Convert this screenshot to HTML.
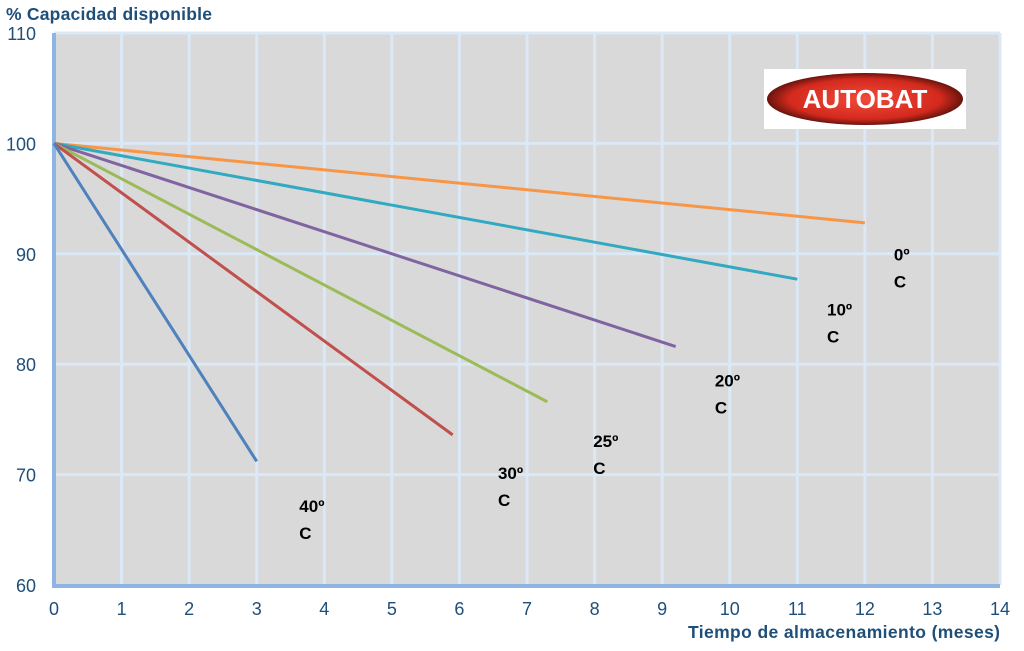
<!DOCTYPE html>
<html><head><meta charset="utf-8"><style>
body{margin:0;background:#fff;}
svg text{font-family:"Liberation Sans",sans-serif;}
</style></head><body>
<svg id="c" width="1024" height="646" xmlns="http://www.w3.org/2000/svg">
<rect x="54" y="33" width="946" height="552" fill="#d9d9d9"/>
<g id="grid"></g>
<g id="series"></g>
<g id="ticks"></g>
<text x="6" y="20" font-size="17.5" font-weight="bold" fill="#1f4e79" textLength="206">% Capacidad disponible</text>
<text x="688" y="638" font-size="17.5" font-weight="bold" fill="#1f4e79" textLength="312">Tiempo de almacenamiento (meses)</text>
<g>
<defs><radialGradient id="rg" cx="50%" cy="50%" r="55%"><stop offset="0" stop-color="#f04a3a"/><stop offset="0.7" stop-color="#d42a1e"/><stop offset="1" stop-color="#3a0a06"/></radialGradient></defs>
<rect x="764" y="69" width="202" height="60" fill="#fff"/>
<ellipse cx="865" cy="99" rx="98" ry="26" fill="url(#rg)"/>
<text x="865" y="108" font-size="26" font-weight="bold" fill="#fff" text-anchor="middle">AUTOBAT</text>
</g>
</svg>
<script>
const months=[0,1,2,3,4,5,6,7,8,9,10,11,12,13,14];
const yTicks=[60,70,80,90,100,110];
const temps=["0º","10º","20º","25º","30º","40º"];
const colors=["#f79646","#31a9c0","#8064a2","#9bbb59","#c0504d","#4f81bd"];
const endMonths=[12,11,9.2,7.3,5.9,3];
const endValues=[92.8,87.7,81.6,76.6,73.6,71.2];
const labelX=[12.43,11.44,9.78,7.98,6.57,3.63];
const labelY=[89.4,84.4,78.0,72.5,69.6,66.6];
const X=v=>54+v*(946/14), Y=v=>585-(v-60)*(552/50);
const NS="http://www.w3.org/2000/svg";
function mk(t,a,p){const e=document.createElementNS(NS,t);for(const k in a)e.setAttribute(k,a[k]);p.appendChild(e);return e;}
const g=document.getElementById('grid'),s=document.getElementById('series'),tk=document.getElementById('ticks');
months.forEach(m=>{if(m>0){const l=mk('line',{x1:X(m),x2:X(m),y1:33,y2:585,stroke:'#dbe8f6','stroke-width':3},g);

}
const t=mk('text',{x:X(m),y:615,'font-size':18,fill:'#1f4e79','text-anchor':'middle'},tk);t.textContent=m;

});
yTicks.forEach(v=>{if(v>60){const l=mk('line',{x1:54,x2:1000,y1:Y(v),y2:Y(v),stroke:'#dbe8f6','stroke-width':3},g);

}
const t=mk('text',{x:36,y:Y(v)+7,'font-size':18,fill:'#1f4e79','text-anchor':'end'},tk);t.textContent=v;

});
const ax=mk('line',{x1:54,x2:54,y1:33,y2:587,stroke:'#8eb4e3','stroke-width':4},g);


const bx=mk('line',{x1:52,x2:1000,y1:586,y2:586,stroke:'#8eb4e3','stroke-width':4},g);


temps.forEach((tp,i)=>{
const l=mk('line',{x1:X(0),y1:Y(100),x2:X(endMonths[i]),y2:Y(endValues[i]),stroke:colors[i],'stroke-width':3},s);


const t=mk('text',{x:X(labelX[i]),y:Y(labelY[i]),'font-size':17,'font-weight':'bold',fill:'#000'},s);


const a=mk('tspan',{x:X(labelX[i])},t);a.textContent=tp;
const b=mk('tspan',{x:X(labelX[i]),dy:27},t);b.textContent='C';
});
</script>
</body></html>
